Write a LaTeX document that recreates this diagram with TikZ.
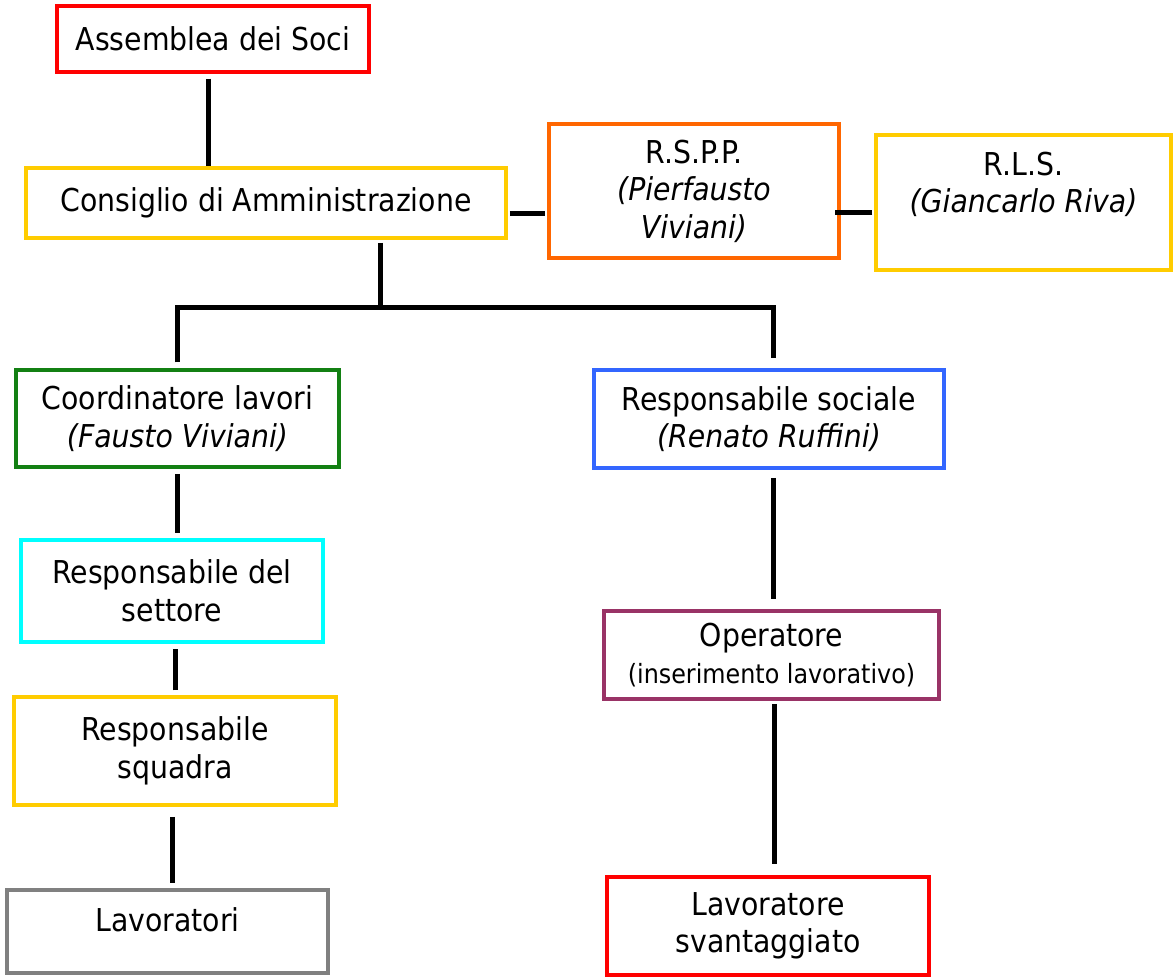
\documentclass[tikz,border=0pt]{standalone}
\usepackage{fontspec}
\setmainfont{DejaVu Sans Condensed}[ItalicFont={DejaVu Sans Condensed Oblique}]
\usetikzlibrary{calc,positioning}
\definecolor{bordred}{HTML}{FF0000}
\definecolor{bordgold}{HTML}{FFCC00}
\definecolor{bordorange}{HTML}{FF6600}
\definecolor{bordgreen}{HTML}{138013}
\definecolor{bordcyan}{HTML}{00FFFF}
\definecolor{bordgray}{HTML}{808080}
\definecolor{bordblue}{HTML}{3366FF}
\definecolor{bordplum}{HTML}{993366}
\begin{document}
\begin{tikzpicture}[x=1pt,y=-1pt,
  box/.style={rectangle,draw,line width=3.5pt,align=center,inner sep=0pt,font=\fontsize{31.5}{37.5}\selectfont},
  link/.style={line width=5pt,shorten <=5pt,shorten >=5pt}]
  \useasboundingbox (0,0) rectangle (1175,979);

        \node[box,draw=bordred,minimum width=312,minimum height=66] (assemblea) at (213,39) {Assemblea dei Soci};
        \node[box,draw=bordgold,minimum width=480,minimum height=70] (consiglio) at (266,203) {Consiglio di Amministrazione};
        \node[box,draw=bordorange,minimum width=290,minimum height=134] (rspp) at (694,191) {R.S.P.P.\\\textit{(Pierfausto}\\\textit{Viviani)}};
        \node[box,draw=bordgold,minimum width=295,minimum height=135,text depth=40pt] (rls) at (1023.5,202.5) {R.L.S.\\\textit{(Giancarlo Riva)}};

        \node[box,draw=bordgreen,minimum width=323,minimum height=97] (coordinatore) at (177.5,418.5) {Coordinatore lavori\\\textit{(Fausto Viviani)}};
        \node[box,draw=bordcyan,minimum width=302,minimum height=102] (settore) at (172,591) {Responsabile del\\settore};
        \node[box,draw=bordgold,minimum width=322,minimum height=108] (squadra) at (175,751) {Responsabile\\squadra};
        \node[box,draw=bordgray,minimum width=321,minimum height=83,text depth=23pt] (lavoratori) at (167.5,931.5) {Lavoratori};

        \node[box,draw=bordblue,minimum width=350,minimum height=98] (sociale) at (769,419) {Responsabile sociale\\\textit{(Renato Ruffini)}};
        \node[box,draw=bordplum,minimum width=335,minimum height=88] (operatore) at (771.5,655) {Operatore\\{\fontsize{26.5}{35}\selectfont(inserimento lavorativo)}};
        \node[box,draw=bordred,minimum width=322,minimum height=98] (svantaggiato) at (768,926) {Lavoratore\\svantaggiato};

        \coordinate (hub) at (380,307);

        \draw[link,shorten >=0pt] ([xshift=-5pt]assemblea.south) -- ([xshift=-5pt]assemblea.south |- consiglio.north);
        \draw[link,shorten <=3pt,shorten >=0pt] (consiglio.south -| hub) -- (hub);
        \draw[link,shorten <=6pt,shorten >=10pt] (coordinatore.north) |- (hub) -| ([xshift=4pt]sociale.north);
        \draw[link,shorten <=2pt,shorten >=2pt] ([yshift=-10pt]consiglio.east) -- ([yshift=-10pt]consiglio.east -| rspp.west);
        \draw[link,shorten <=2pt,shorten >=-6pt] ([yshift=-10pt]rls.west) -- ([yshift=-10pt]rls.west -| rspp.east);

        \draw[link] (coordinatore.south) -- (coordinatore.south |- settore.north);
        \draw[link] (squadra.north) -- (squadra.north |- settore.south);
        \draw[link,shorten <=10pt] ([xshift=-3pt]squadra.south) -- ([xshift=-3pt]squadra.south |- lavoratori.north);

        \draw[link,shorten <=8pt,shorten >=10pt] ([xshift=4pt]sociale.south) -- ([xshift=4pt]sociale.south |- operatore.north);
        \draw[link,shorten <=3pt,shorten >=11pt] ([xshift=3pt]operatore.south) -- ([xshift=3pt]operatore.south |- svantaggiato.north);

      \end{tikzpicture}
\end{document}
